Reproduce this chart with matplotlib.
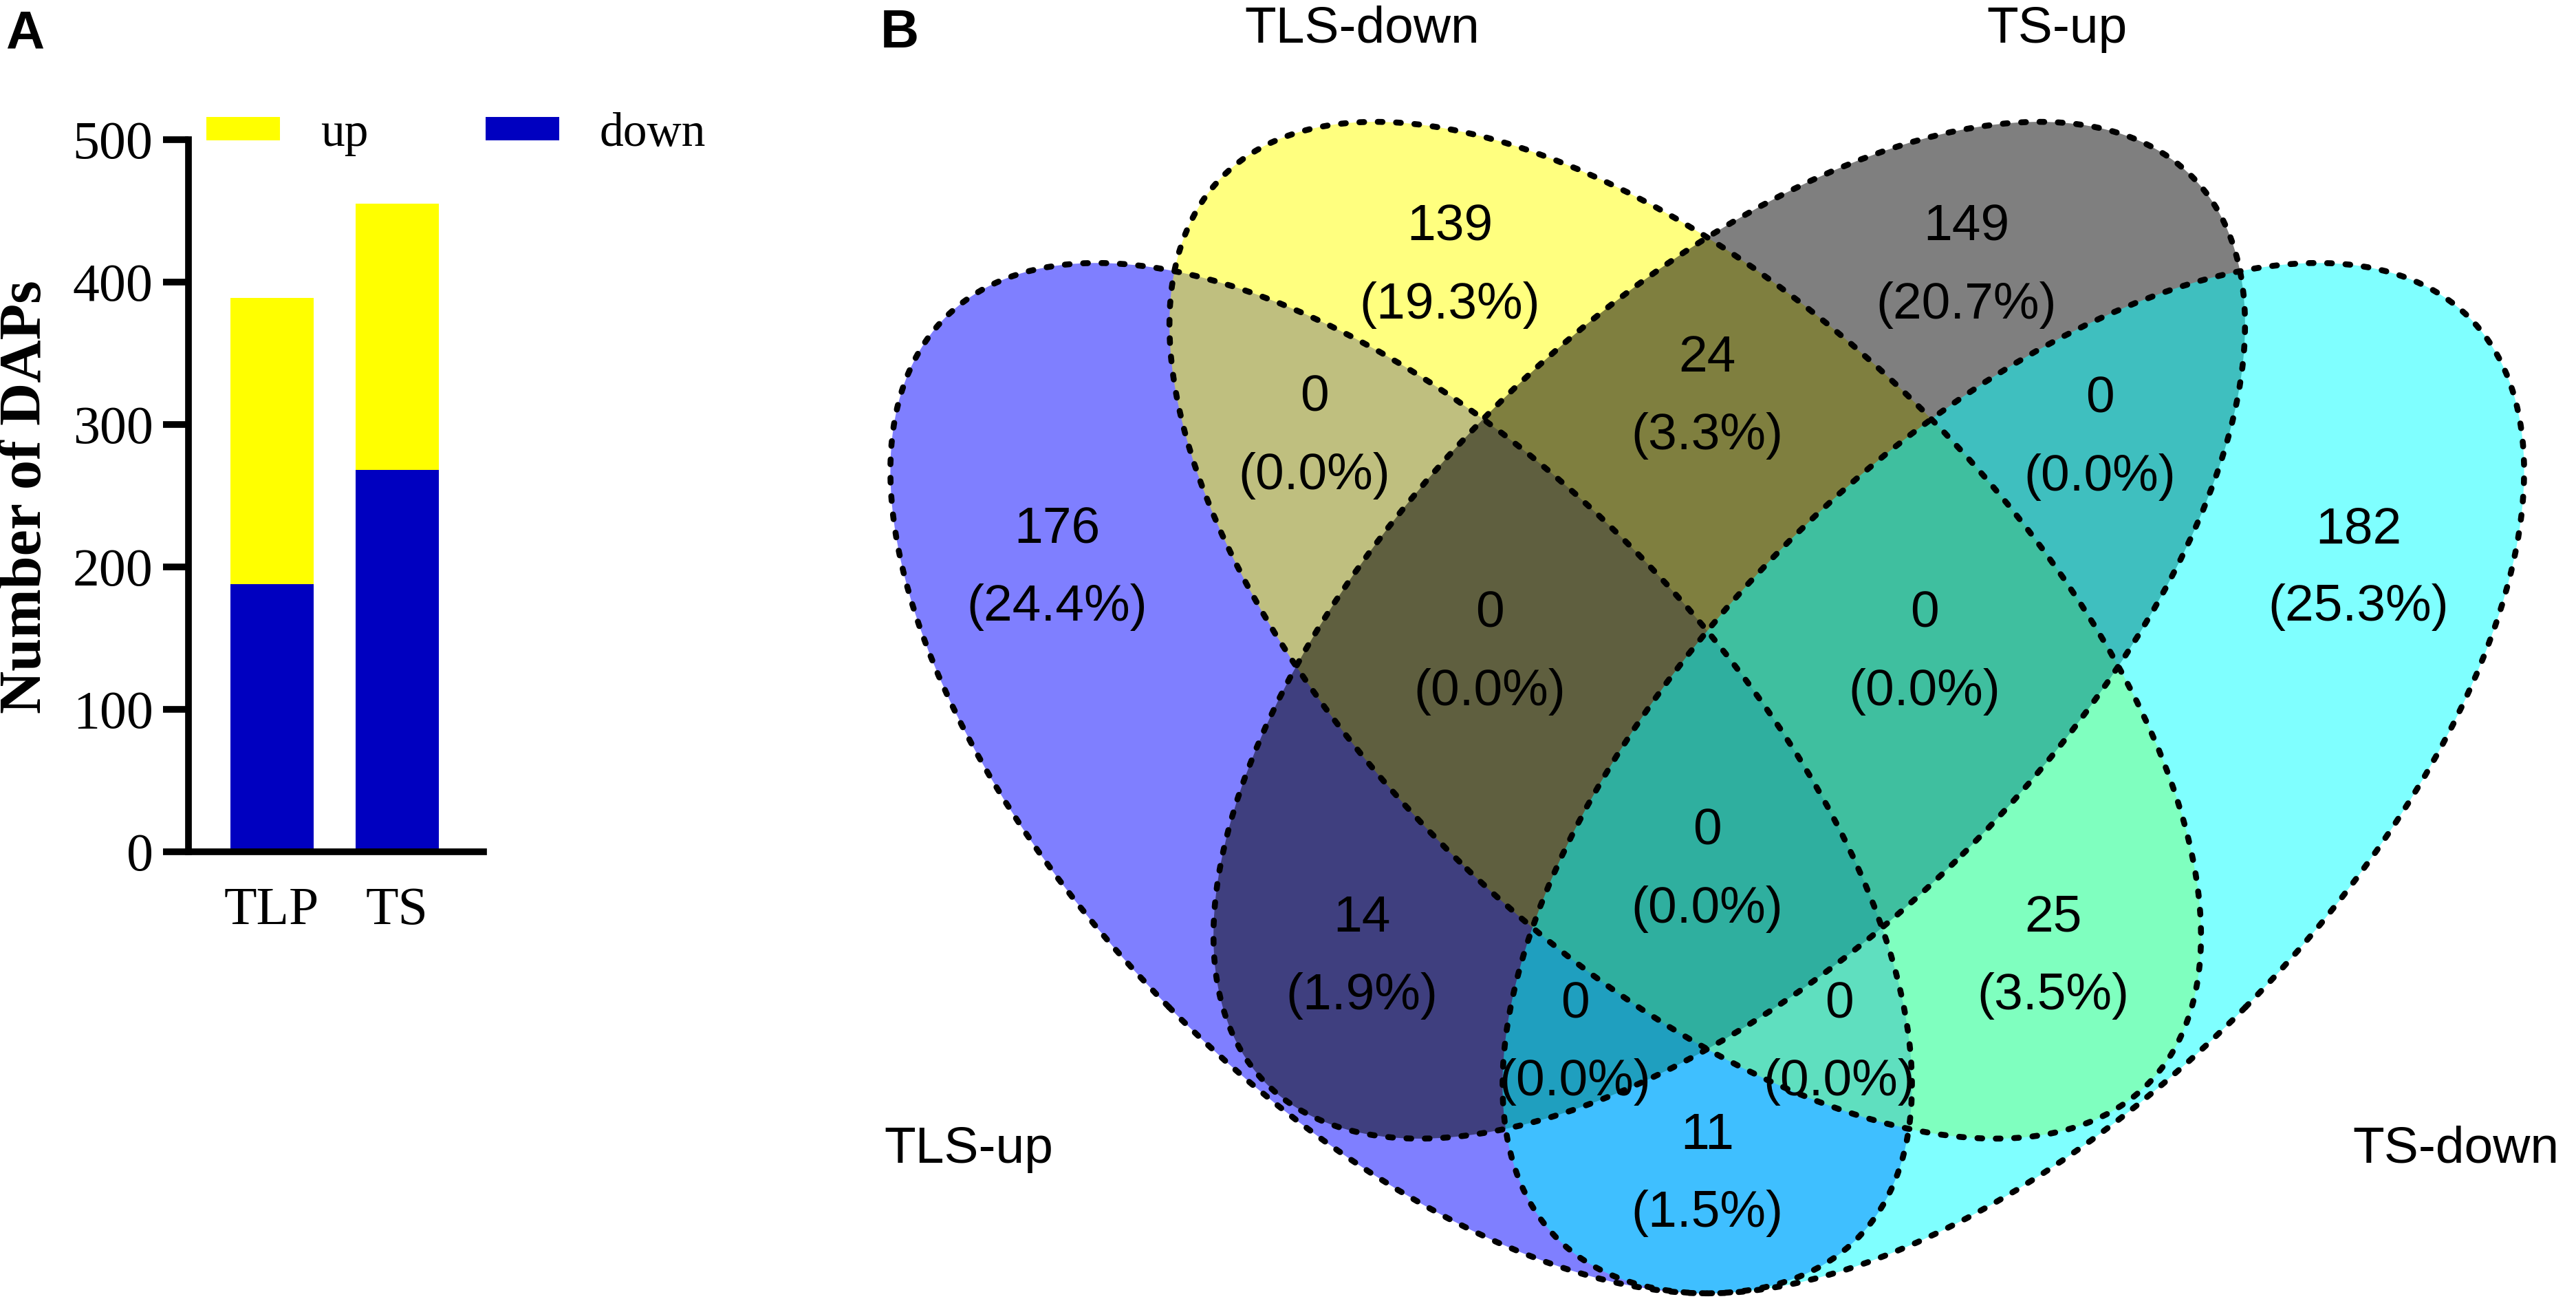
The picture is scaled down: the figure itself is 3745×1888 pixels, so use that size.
import matplotlib.pyplot as plt
from matplotlib.patches import Ellipse

# panel A data
groups = ["TLP", "TS"]
down = [188, 268]
up = [201, 187]

# panel B data
set_names = ["TLS-up", "TLS-down", "TS-up", "TS-down"]
set_colors = ["#0000FF", "#FFFF00", "#000000", "#00FFFF"]
# 15 regions of the 4-set venn
region_counts = [176, 139, 149, 182, 0, 24, 0, 0, 0, 0, 14, 0, 25, 0, 11]
total = sum(region_counts)

# layout of the venn (pixel coordinates of the figure, y downwards)
mid = 2482
blue_ell = (2037, 1131, 942, 474, -134.6)
yel_ell = (2450, 916, 942, 470, -135.7)
ellipses = [blue_ell, yel_ell,
            (2 * mid - yel_ell[0], yel_ell[1], yel_ell[2], yel_ell[3], -yel_ell[4]),
            (2 * mid - blue_ell[0], blue_ell[1], blue_ell[2], blue_ell[3], -blue_ell[4])]
# x, baseline of the count line
region_pos = [(1537, 789), (2108, 350), (2859, 350), (3429, 789),
              (1911, 598), (mid, 540), (3053, 600),
              (2166, 912), (2798, 912), (mid, 1228),
              (1980, 1354), (2290, 1479), (2985, 1354), (2674, 1479), (mid, 1670)]
name_pos = [(1408, 1690), (1980, 62), (2990, 62), (3570, 1690)]

W, H = 3745, 1888
fig = plt.figure(figsize=(W / 100, H / 100), dpi=100)

# ---------- panel A ----------
serif = "Liberation Serif"
ax = fig.add_axes([274 / W, 1 - 1238 / H, 429 / W, 1035 / H])
x = range(len(groups))
b_down = ax.bar(x, down, width=0.665, color="#0000C0")
b_up = ax.bar(x, up, width=0.665, bottom=down, color="#FFFF00")
ax.set_xlim(-0.665, 1.692)
ax.set_ylim(0, 500)
ax.set_yticks([0, 100, 200, 300, 400, 500])
ax.set_xticks(list(x))
ax.set_xticklabels(groups)
for s in ["top", "right"]:
    ax.spines[s].set_visible(False)
for s in ["left", "bottom"]:
    ax.spines[s].set_linewidth(7)
ax.tick_params(axis="y", length=27, width=7, pad=10, labelsize=56)
ax.tick_params(axis="x", length=0, pad=36, labelsize=56)
for lab in ax.get_xticklabels() + ax.get_yticklabels():
    lab.set_fontfamily(serif)
fig.text(38 / W, 1 - 722 / H, "Number of DAPs", rotation=90, ha="center", va="center",
         fontsize=62, fontweight="bold", fontfamily=serif)
ax.legend([b_up, b_down], ["up", "down"], ncol=2, loc="center left",
          bbox_to_anchor=(300 / W, 1 - 195 / H), bbox_transform=fig.transFigure,
          frameon=False, borderpad=0, borderaxespad=0, handlelength=1.54,
          handleheight=0.39, handletextpad=0.85, columnspacing=2.45,
          prop={"family": serif, "size": 50})

fig.text(8 / W, 1 - 71 / H, "A", fontsize=56, fontweight="bold",
         fontfamily="Liberation Sans", va="baseline")
fig.text(1280 / W, 1 - 69 / H, "B", fontsize=56, fontweight="bold",
         fontfamily="Liberation Sans", va="baseline")

# ---------- panel B ----------
vax = fig.add_axes([0, 0, 1, 1], zorder=-1)
vax.set_xlim(0, W)
vax.set_ylim(H, 0)
vax.axis("off")
for (cx, cy, a, b, ang), c in zip(ellipses, set_colors):
    vax.add_patch(Ellipse((cx, cy), 2 * a, 2 * b, angle=ang, facecolor=c, alpha=0.5, lw=0))
for (cx, cy, a, b, ang) in ellipses:
    vax.add_patch(Ellipse((cx, cy), 2 * a, 2 * b, angle=ang, facecolor="none",
                          edgecolor="black", lw=6.2, linestyle=(0, (0.8, 2.3)),
                          capstyle="round"))

sans = "Liberation Sans"
for n, (px, py) in zip(region_counts, region_pos):
    vax.text(px, py, str(n), ha="center", va="baseline", fontsize=54, fontfamily=sans)
    vax.text(px, py + 113, "(%.1f%%)" % (100 * n / total), ha="center", va="baseline",
             fontsize=54, fontfamily=sans)
for name, (px, py) in zip(set_names, name_pos):
    vax.text(px, py, name, ha="center", va="baseline", fontsize=54, fontfamily=sans)

fig.savefig("out.png", dpi=100)
